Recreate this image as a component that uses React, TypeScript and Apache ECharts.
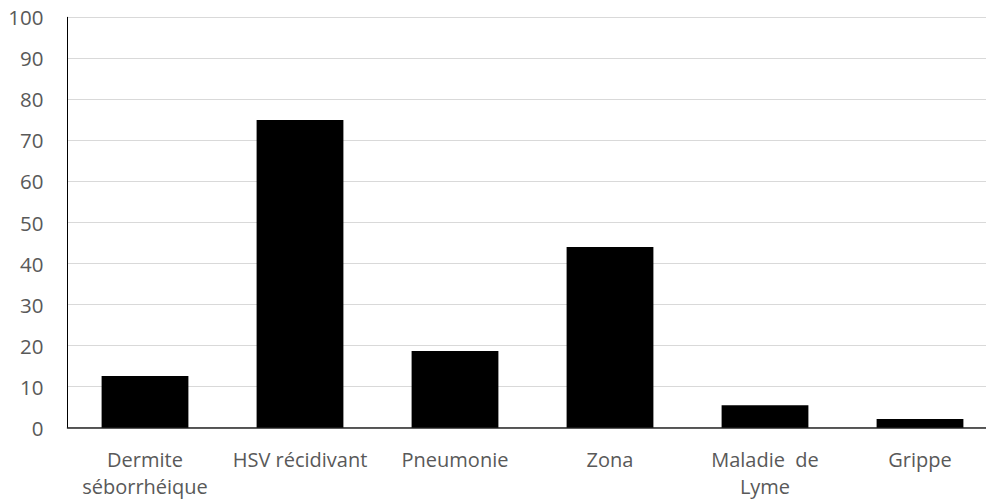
import React, { useEffect, useRef } from "react";
import * as echarts from "echarts";

const categories = ["Dermite\nséborrhéique", "HSV récidivant", "Pneumonie", "Zona", "Maladie  de\nLyme", "Grippe"];
const values = [12.6, 75, 18.7, 44, 5.5, 2.1];
const yMin = 0;
const yMax = 100;
const yInterval = 10;

export default function App() {
  const ref = useRef<HTMLDivElement>(null);
  useEffect(() => {
    if (!ref.current) return;
    const chart = echarts.init(ref.current, null, { renderer: "svg" });
    chart.setOption({
      animation: false,
      backgroundColor: "#ffffff",
      grid: {
        left: 67.5,
        top: 17.3,
        width: 930,
        height: 410.4,
        containLabel: false,
        outerBoundsMode: "none",
      },
      xAxis: {
        type: "category",
        data: categories,
        axisLine: { show: true, lineStyle: { color: "#262626", width: 1.5 } },
        axisTick: { show: false },
        axisLabel: {
          interval: 0,
          margin: 18,
          color: "#595959",
          fontFamily: "'Open Sans', sans-serif",
          fontSize: 20,
          lineHeight: 27,
        },
      },
      yAxis: {
        type: "value",
        min: yMin,
        max: yMax,
        interval: yInterval,
        axisLine: { show: true, lineStyle: { color: "#000000", width: 1 } },
        axisTick: { show: false },
        splitLine: { show: true, lineStyle: { color: "#d9d9d9", width: 1 } },
        axisLabel: {
          margin: 24,
          color: "#595959",
          fontFamily: "'Open Sans', sans-serif",
          fontSize: 20.5,
        },
      },
      series: [
        {
          type: "bar",
          data: values,
          barCategoryGap: "44%",
          itemStyle: { color: "#000000" },
        },
      ],
    });
    return () => chart.dispose();
  }, []);
  return (
    <div
      ref={ref}
      style={{ position: "fixed", left: 0, top: 0, width: 986, height: 500 }}
    />
  );
}
